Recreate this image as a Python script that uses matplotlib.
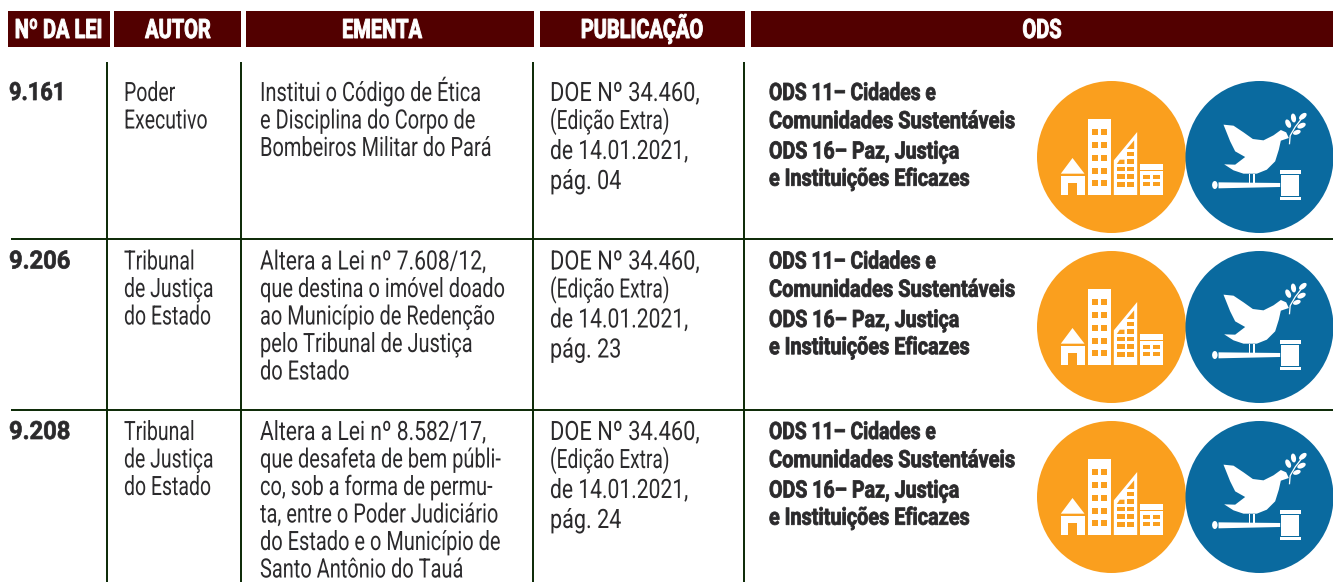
import matplotlib
matplotlib.use("Agg")
import matplotlib.pyplot as plt
from matplotlib.patches import Rectangle, Ellipse, Polygon
from matplotlib.patheffects import AbstractPathEffect
from matplotlib.transforms import Affine2D

HEADERS = ["Nº DA LEI", "AUTOR", "EMENTA", "PUBLICAÇÃO", "ODS"]
LAWS = ["9.161", "9.206", "9.208"]
AUTHORS = [["Poder", "Executivo"],
           ["Tribunal", "de Justiça", "do Estado"],
           ["Tribunal", "de Justiça", "do Estado"]]
EMENTAS = [["Institui o Código de Ética", "e Disciplina do Corpo de", "Bombeiros Militar do Pará"],
           ["Altera a Lei nº 7.608/12,", "que destina o imóvel doado", "ao Município de Redenção",
            "pelo Tribunal de Justiça", "do Estado"],
           ["Altera a Lei nº 8.582/17,", "que desafeta de bem públi-", "co, sob a forma de permu-",
            "ta, entre o Poder Judiciário", "do Estado e o Município de", "Santo Antônio do Tauá"]]
PUBS = [["DOE Nº 34.460,", "(Edição Extra)", "de 14.01.2021,", "pág. 04"],
        ["DOE Nº 34.460,", "(Edição Extra)", "de 14.01.2021,", "pág. 23"],
        ["DOE Nº 34.460,", "(Edição Extra)", "de 14.01.2021,", "pág. 24"]]
ODS = ["ODS 11– Cidades e", "Comunidades Sustentáveis", "ODS 16– Paz, Justiça", "e Instituições Eficazes"]

HEADER_BOXES = [(8, 110), (114, 241), (246, 534), (540, 745), (751, 1333)]
HEADER_X = [58.5, 178, 382, 642, 1042]
ROW_BASE = [100, 268.5, 439]
VLINES = [107, 241, 533, 744]
HLINES = [239, 410]
CIRCLE_Y = [157, 327, 497]
AUTH_OFFS = [0, 27.5, 55]
EME_OFFS = [0, 27.5, 55, 82.5, 110, 137.5]
PUB_OFFS = [0, 28, 58, 88]
ODS_OFFS = [0, 28.2, 58.5, 85.7]
LAW_SX = [0.87, 0.95, 0.95]
PUB_SX = [0.82, 0.72, 0.79, 0.81]
ODS_SX = [0.806, 0.84, 0.82, 0.83]

DARK = "#520000"; LINE = "#0a2804"; TXT = "#2b2a2c"; ORANGE = "#FA9F1E"; BLUE = "#0A6A9F"
FONT = "Roboto"


class Tall(AbstractPathEffect):
    """Stretch the glyphs of a real Text upward from its baseline, to imitate a condensed face."""
    def __init__(self, sy, stroke=0.0):
        super().__init__()
        self.sy, self.stroke = sy, stroke

    def draw_path(self, renderer, gc, tpath, affine, rgbFace=None):
        y0 = affine.get_matrix()[1, 2]
        new = affine + Affine2D().translate(0, -y0).scale(1, self.sy).translate(0, y0)
        gc0 = renderer.new_gc()
        gc0.copy_properties(gc)
        if self.stroke:
            gc0.set_foreground(rgbFace)
            gc0.set_linewidth(self.stroke)
        renderer.draw_path(gc0, tpath, new, rgbFace)
        gc0.restore()


fig = plt.figure(figsize=(13.33, 5.82), dpi=100)
ax = fig.add_axes([0, 0, 1, 1])
ax.set_xlim(0, 1333); ax.set_ylim(582, 0); ax.axis("off")


def put(x, y, s, sx, size, stroke=0.0, **kw):
    t = ax.text(x, y, s, va="baseline", family=FONT, fontsize=size * sx, **kw)
    t.set_path_effects([Tall(1 / sx, stroke=stroke)])
    return t


for (a, b), mid, h in zip(HEADER_BOXES, HEADER_X, HEADERS):
    ax.add_patch(Rectangle((a, 11), b - a, 36, fc=DARK, ec="none"))
    put(mid, 38, h, 0.75, 19.2, stroke=0.7, color="white", ha="center", weight="bold")

for x in VLINES:
    ax.plot([x, x], [62, 582], color=LINE, lw=1.4, solid_capstyle="butt")
for y in HLINES:
    ax.plot([11, 1333], [y, y], color=LINE, lw=1.4, solid_capstyle="butt")


def auto_sx(s):
    return 0.79 if any(c.isdigit() for c in s) else 0.75


for r, base in enumerate(ROW_BASE):
    put(9, base, LAWS[r], LAW_SX[r], 18, stroke=0.5, color=TXT, ha="left", weight="bold")
    for s, off in zip(AUTHORS[r], AUTH_OFFS):
        put(124, base + 1 + off, s, 0.73, 19.2, color=TXT, ha="left")
    for s, off in zip(EMENTAS[r], EME_OFFS):
        put(260, base + 1 + off, s, auto_sx(s), 19.2, color=TXT, ha="left")
    for s, off, sx in zip(PUBS[r], PUB_OFFS, PUB_SX):
        put(550, base + 1 + off, s, sx, 19.2, color=TXT, ha="left")
    for s, off, sx in zip(ODS, ODS_OFFS, ODS_SX):
        put(769, base + off, s, sx, 17.2, stroke=0.6, color=TXT, ha="left", weight="bold")

Z = 1 / 3.0  # icon drawing unit


def rect(cx, cy, x0, y0, x1, y1, color, ox, oy):
    ax.add_patch(Rectangle((cx + (x0 - ox) * Z, cy + (y0 - oy) * Z), (x1 - x0) * Z, (y1 - y0) * Z,
                           fc=color, ec="none"))


def poly(cx, cy, pts, color, ox, oy):
    ax.add_patch(Polygon([(cx + (x - ox) * Z, cy + (y - oy) * Z) for x, y in pts], closed=True,
                         fc=color, ec="none"))


def city(cx, cy):
    ox, oy = 244, 262
    ax.add_patch(Ellipse((cx, cy), 149, 152, fc=ORANGE, ec="none"))
    W = "white"
    poly(cx, cy, [(92, 312), (127, 265), (163, 312)], W, ox, oy)
    rect(cx, cy, 92, 318, 163, 376, W, ox, oy)
    rect(cx, cy, 114, 340, 141, 376, ORANGE, ox, oy)
    rect(cx, cy, 172, 148, 242, 376, W, ox, oy)
    for y0, y1 in [(178, 196), (217, 235), (255, 273), (294, 312), (332, 350)]:
        for x0, x1 in [(185, 202), (213, 231)]:
            rect(cx, cy, x0, y0, x1, y1, ORANGE, ox, oy)
    poly(cx, cy, [(251, 376), (251, 272), (321, 187), (321, 376)], W, ox, oy)
    for y0, y1 in [(291, 305), (314, 327), (337, 351)]:
        for x0, x1 in [(260, 283), (290, 312)]:
            rect(cx, cy, x0, y0, x1, y1, ORANGE, ox, oy)
    poly(cx, cy, [(260, 283), (269, 270), (283, 270), (283, 283)], ORANGE, ox, oy)
    rect(cx, cy, 290, 268, 312, 283, ORANGE, ox, oy)
    rect(cx, cy, 290, 246, 312, 260, ORANGE, ox, oy)
    poly(cx, cy, [(290, 238), (312, 212), (312, 238)], ORANGE, ox, oy)
    rect(cx, cy, 328, 284, 399, 376, W, ox, oy)
    rect(cx, cy, 328, 300, 399, 305, ORANGE, ox, oy)
    for y0, y1 in [(315, 328), (336, 350)]:
        for x0, x1 in [(338, 360), (368, 390)]:
            rect(cx, cy, x0, y0, x1, y1, ORANGE, ox, oy)


def peace(cx, cy):
    ox, oy = 688, 262
    ax.add_patch(Ellipse((cx, cy), 148, 152, fc=BLUE, ec="none"))
    W = "white"
    poly(cx, cy, [(580, 165), (610, 168), (640, 188), (668, 208), (700, 212), (730, 197), (752, 181),
                  (768, 188), (776, 205), (752, 213), (746, 240), (735, 275), (710, 300), (680, 312),
                  (640, 312), (610, 302), (582, 284), (615, 285), (645, 262), (615, 245), (600, 215)],
         W, ox, oy)
    rect(cx, cy, 655, 312, 660, 340, W, ox, oy)
    rect(cx, cy, 669, 312, 675, 340, W, ox, oy)
    poly(cx, cy, [(565, 338), (750, 340), (750, 352), (565, 356)], W, ox, oy)
    ax.add_patch(Ellipse((cx + (554 - ox) * Z, cy + (346 - oy) * Z), 5.5, 8, fc=W, ec="none"))
    rect(cx, cy, 753, 315, 805, 378, W, ox, oy)
    rect(cx, cy, 748, 300, 812, 312, W, ox, oy)
    rect(cx, cy, 748, 381, 812, 392, W, ox, oy)
    ax.plot([cx + (778 - ox) * Z, cx + (780 - ox) * Z, cx + (795 - ox) * Z, cx + (812 - ox) * Z],
            [cy + (222 - oy) * Z, cy + (198 - oy) * Z, cy + (172 - oy) * Z, cy + (150 - oy) * Z],
            color=W, lw=0.9)
    for lx, ly, w, h, ang in [(774, 162, 5, 9, -25), (790, 145, 5, 9, -10), (818, 140, 5, 9, 50),
                              (814, 168, 5, 9, 65), (800, 188, 4.5, 8, 70)]:
        ax.add_patch(Ellipse((cx + (lx - ox) * Z, cy + (ly - oy) * Z), w, h, angle=ang, fc=W, ec="none"))


for cy in CIRCLE_Y:
    city(1111.5, cy)
    peace(1259.5, cy)

fig.savefig("out.png", dpi=100)
